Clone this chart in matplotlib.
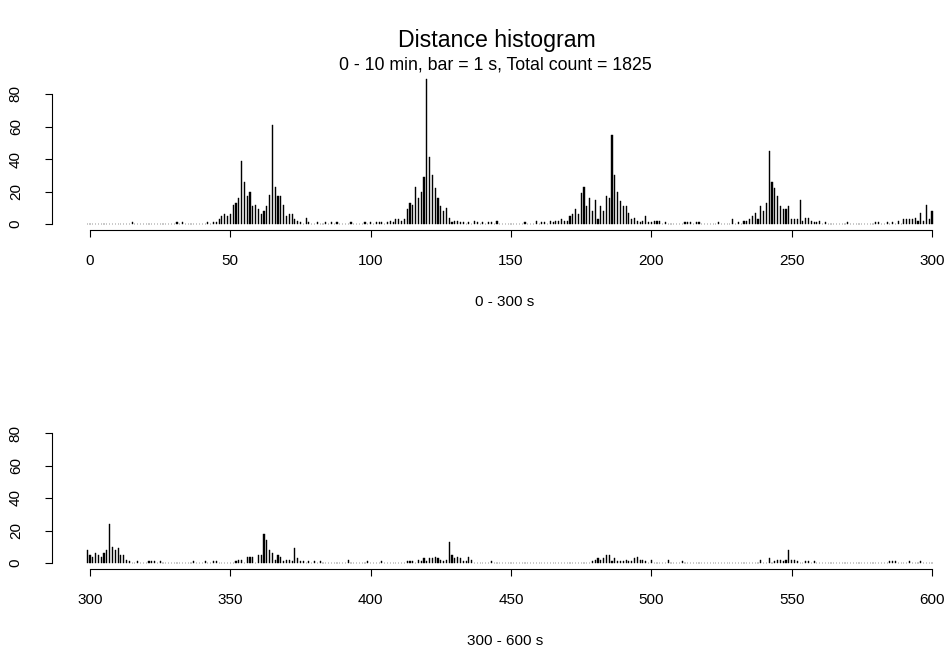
import numpy as np
import matplotlib
matplotlib.use("Agg")
import matplotlib.pyplot as plt

plt.rcParams['font.family'] = ['Liberation Sans', 'DejaVu Sans']

# counts per second, first panel (positions -1 .. 300)
top_start = -1
top_counts = [0,
    0, 0, 0, 0, 0, 0, 0, 0, 0, 0,
    0, 0, 0, 0, 0, 1, 0, 0, 0, 0,
    0, 0, 0, 0, 0, 0, 0, 0, 0, 0,
    0, 1, 0, 1, 0, 0, 0, 0, 0, 0,
    0, 0, 1, 0, 1, 1, 3, 5, 6, 5,
    6, 12, 13, 16, 39, 26, 17, 20, 11, 12,
    9, 6, 8, 11, 18, 61, 23, 17, 17, 12,
    5, 6, 6, 3, 2, 1, 0, 4, 1, 0,
    0, 1, 0, 0, 1, 0, 1, 0, 1, 0,
    0, 0, 0, 1, 0, 0, 0, 0, 1, 0,
    1, 0, 1, 1, 1, 0, 1, 2, 1, 3,
    3, 2, 3, 9, 13, 12, 23, 16, 20, 29,
    89, 41, 30, 22, 16, 11, 8, 10, 4, 1,
    2, 2, 1, 1, 0, 1, 0, 2, 1, 0,
    1, 0, 1, 1, 0, 2, 0, 0, 0, 0,
    0, 0, 0, 0, 0, 1, 0, 0, 0, 2,
    0, 1, 1, 0, 2, 1, 2, 2, 3, 2,
    2, 5, 6, 9, 6, 19, 23, 11, 16, 8,
    15, 3, 11, 8, 17, 16, 55, 30, 20, 14,
    11, 11, 7, 3, 4, 2, 1, 2, 5, 1,
    1, 2, 2, 2, 0, 1, 0, 0, 0, 0,
    0, 0, 1, 1, 1, 0, 1, 1, 0, 0,
    0, 0, 0, 0, 1, 0, 0, 0, 0, 3,
    0, 1, 0, 2, 2, 3, 5, 7, 3, 11,
    8, 13, 45, 26, 22, 17, 11, 9, 9, 11,
    3, 3, 3, 15, 2, 4, 4, 2, 1, 1,
    2, 0, 1, 0, 0, 0, 0, 0, 0, 0,
    1, 0, 0, 0, 0, 0, 0, 0, 0, 0,
    1, 1, 0, 0, 1, 0, 1, 0, 2, 0,
    3, 3, 3, 3, 4, 2, 7, 2, 12, 3,
    8]

# counts per second, second panel (positions 299 .. 600)
bottom_start = 299
bottom_counts = [8,
    5, 4, 6, 5, 4, 6, 8, 24, 10, 8,
    9, 5, 5, 2, 1, 0, 0, 1, 0, 0,
    0, 1, 1, 1, 0, 1, 0, 0, 0, 0,
    0, 0, 0, 0, 0, 0, 0, 1, 0, 0,
    0, 1, 0, 0, 1, 1, 0, 0, 0, 0,
    0, 0, 1, 2, 2, 0, 4, 4, 4, 0,
    5, 5, 18, 14, 8, 6, 2, 5, 4, 1,
    2, 2, 1, 9, 3, 1, 1, 0, 1, 0,
    1, 0, 1, 0, 0, 0, 0, 0, 0, 0,
    0, 0, 2, 0, 0, 0, 0, 0, 0, 1,
    0, 0, 0, 0, 1, 0, 0, 0, 0, 0,
    0, 0, 0, 1, 1, 1, 0, 2, 1, 3,
    1, 3, 3, 4, 3, 2, 1, 2, 13, 5,
    3, 4, 3, 1, 1, 4, 2, 0, 0, 0,
    0, 0, 0, 1, 0, 0, 0, 0, 0, 0,
    0, 0, 0, 0, 0, 0, 0, 0, 0, 0,
    0, 0, 0, 0, 0, 0, 0, 0, 0, 0,
    0, 0, 0, 0, 0, 0, 0, 0, 0, 1,
    2, 3, 2, 3, 5, 5, 1, 3, 1, 1,
    1, 2, 1, 1, 3, 4, 2, 2, 1, 0,
    2, 0, 0, 0, 0, 0, 2, 0, 0, 0,
    0, 1, 0, 0, 0, 0, 0, 0, 0, 0,
    0, 0, 0, 0, 0, 0, 0, 0, 0, 0,
    0, 0, 0, 0, 0, 0, 0, 0, 0, 2,
    0, 0, 3, 0, 1, 2, 2, 1, 2, 8,
    2, 2, 1, 0, 0, 1, 1, 0, 1, 0,
    0, 0, 0, 0, 0, 0, 0, 0, 0, 0,
    0, 0, 0, 0, 0, 0, 0, 0, 0, 0,
    0, 0, 0, 0, 0, 1, 1, 1, 0, 0,
    0, 0, 1, 0, 0, 0, 1, 0, 0, 0,
    0]

panels = [
    (top_start, top_counts, 0, 300, "0 - 300 s"),
    (bottom_start, bottom_counts, 300, 600, "300 - 600 s"),
]

W, H = 953, 649
fig = plt.figure(figsize=(W / 100, H / 100), dpi=100)

px_per_s = (932 - 90) / 300
px_per_n = 1.625

# axis line y and x-label y, in pixels
boxes = [(230, 302), (569, 641)]

for (start, counts, x0, x1, xlab), (axis_y, lab_y) in zip(panels, boxes):
    left_px, right_px = 52, 950
    top_px = axis_y - 156
    ax = fig.add_axes([left_px / W, 1 - axis_y / H,
                       (right_px - left_px) / W, (axis_y - top_px) / H])
    pos = np.arange(start, start + len(counts))
    ax.bar(pos, counts, width=0.4, color='black', edgecolor='black',
           linewidth=0.3, clip_on=False)
    ax.set_xlim(x0 - (90 - left_px) / px_per_s, x0 + (right_px - 90) / px_per_s)
    ax.set_ylim(-6 / px_per_n, (axis_y - 6 - top_px) / px_per_n)

    for s in ['top', 'right']:
        ax.spines[s].set_visible(False)
    ax.spines['bottom'].set_bounds(x0, x1)
    ax.spines['left'].set_bounds(0, 80)
    ax.set_xticks(np.arange(x0, x1 + 1, 50))
    ax.set_yticks(np.arange(0, 81, 20))
    ax.tick_params(axis='both', direction='out', length=5, width=0.8,
                   labelsize=11)
    ax.tick_params(axis='x', pad=12)
    ax.tick_params(axis='y', pad=16, labelrotation=90)
    for t in ax.get_yticklabels():
        t.set_va('center')
    fig.text(505 / W, 1 - lab_y / H, xlab, ha='center', va='center', fontsize=11)

fig.text(497 / W, 1 - 40 / H, "Distance histogram", ha='center', va='center',
         fontsize=16.7)
fig.text(495 / W, 1 - 65 / H, "0 - 10 min, bar = 1 s, Total count = 1825",
         ha='center', va='center', fontsize=12.8)

fig.savefig("out.png", dpi=100)
